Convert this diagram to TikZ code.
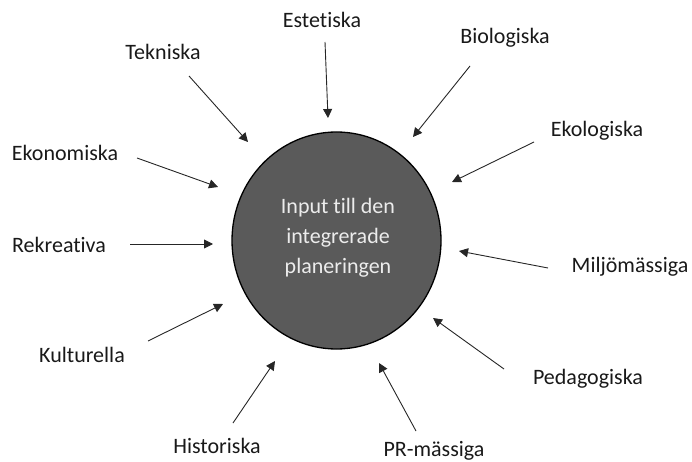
\documentclass[tikz,border=0pt]{standalone}
\usepackage{fontspec}
\setmainfont[RawFeature={-liga}]{Carlito}
\usetikzlibrary{arrows.meta,shapes.geometric}
\definecolor{circfill}{RGB}{90,90,90}
\definecolor{innertext}{RGB}{236,236,236}
\definecolor{labeltext}{RGB}{25,25,25}
\begin{document}
\begin{tikzpicture}[x=1pt,y=-1pt,
  lbl/.style={text=labeltext,font=\fontsize{22}{26}\selectfont,inner sep=0pt},
  arr/.style={draw=black!85,line width=0.9pt,-{Triangle[length=9pt,width=9pt]}}]
\useasboundingbox (0,0) rectangle (692,462);
\node[ellipse,draw=black,line width=1.3pt,fill=circfill,minimum width=209pt,minimum height=217pt,inner sep=0pt] (c) at (336.5,240.5) {};
\node[text=innertext,align=center,font=\fontsize{22}{30}\selectfont] (ct) at (338,238) {Input till den\\integrerade\\planeringen};
% labels
\node[lbl] (est) at (322,20) {Estetiska};
\node[lbl] (tek) at (163,52) {Tekniska};
\node[lbl] (eko) at (65,153) {Ekonomiska};
\node[lbl] (rek) at (59,245) {Rekreativa};
\node[lbl] (kul) at (82,355) {Kulturella};
\node[lbl] (his) at (217,446) {Historiska};
\node[lbl] (pr) at (434,451) {PR-mässiga};
\node[lbl] (ped) at (588,379) {Pedagogiska};
\node[lbl] (mil) at (630,267) {Miljömässiga};
\node[lbl] (ekl) at (597,131) {Ekologiska};
\node[lbl] (bio) at (505,38) {Biologiska};
% arrow ends
\coordinate (s1) at (325,42);  \coordinate (t1) at (328,118);
\coordinate (s2) at (189,76);  \coordinate (t2) at (248,142);
\coordinate (s3) at (137,158); \coordinate (t3) at (218,187);
\coordinate (s4) at (130,244); \coordinate (t4) at (213,244);
\coordinate (s5) at (148,341); \coordinate (t5) at (223,304);
\coordinate (s6) at (233,423); \coordinate (t6) at (275,361);
\coordinate (s7) at (416,431); \coordinate (t7) at (379,363);
\coordinate (s8) at (504,369); \coordinate (t8) at (433,318);
\coordinate (s9) at (548,268); \coordinate (t9) at (459,251);
\coordinate (s10) at (534,142); \coordinate (t10) at (452,182);
\coordinate (s11) at (470,66); \coordinate (t11) at (413,137);
\foreach \i in {1,...,11} {\draw[arr] (s\i) -- (t\i);}
\end{tikzpicture}
\end{document}
